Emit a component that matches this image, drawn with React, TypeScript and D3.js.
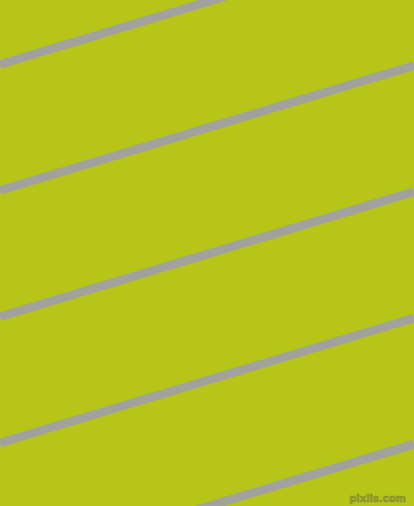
import * as d3 from "d3";

const width = 414;
const height = 506;

// where each stripe crosses the left edge (x = 0), and where it crosses the right edge (x = 414)
const stripeLeftY = [64.5, 190.5, 316.7, 443, 569.2];
const stripeRightY = [-60.5, 65.5, 191.7, 318, 444.2];
const edgeX = [0, 414];

export default function App() {
  const x = d3.scaleLinear().domain([0, 414]).range([0, width]);
  const y = d3.scaleLinear().domain([0, 506]).range([0, height]);

  const line = d3
    .line<[number, number]>()
    .x((d) => x(d[0]))
    .y((d) => y(d[1]));

  const stripes = stripeLeftY.map((ly, i) => {
    const pts: [number, number][] = [
      [edgeX[0], ly],
      [edgeX[1], stripeRightY[i]],
    ];
    return (
      <path
        key={i}
        d={line(pts) || ""}
        stroke="#a1a19e"
        strokeWidth={8.6}
        fill="none"
      />
    );
  });

  return (
    <div style={{ position: "fixed", left: 0, top: 0 }}>
      <svg width={width} height={height} style={{ display: "block" }}>
        <rect width={width} height={height} fill="#b7c519" />
        {stripes}
        <text
          x={406}
          y={502}
          textAnchor="end"
          fontFamily="DejaVu Sans"
          fontSize={10}
          fontWeight="bold"
          fill="#98a040"
          stroke="#7e8a22"
          strokeWidth={0.5}
        >
          pixlis.com
        </text>
      </svg>
    </div>
  );
}
